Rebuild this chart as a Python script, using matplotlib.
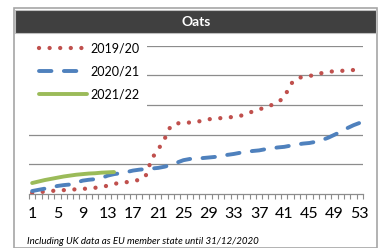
import matplotlib.pyplot as plt
from matplotlib.patches import Rectangle
import numpy as np

plt.rcParams["font.family"] = ["Lato", "DejaVu Sans"]

# ── colours ──────────────────────────────────────────────
RED = "#C0504D"
BLUE = "#4F81BD"
GREEN = "#9BBB59"
GRID = "#8C8C8C"

# ── data (weekly) ───────────────────────────────────────
weeks = np.arange(1, 54)
y2019 = [0.04, 0.06, 0.08, 0.10, 0.12, 0.13, 0.14, 0.16, 0.17, 0.19,
         0.21, 0.24, 0.28, 0.34, 0.38, 0.40, 0.43, 0.48, 0.60, 1.20,
         1.50, 1.85, 2.30, 2.38, 2.40, 2.41, 2.42, 2.48, 2.52, 2.54,
         2.56, 2.58, 2.60, 2.63, 2.71, 2.78, 2.85, 2.92, 3.00, 3.10,
         3.25, 3.70, 3.90, 3.95, 3.98, 4.02, 4.08, 4.12, 4.14, 4.15,
         4.17, 4.18, 4.20]
y2020 = [0.10, 0.14, 0.18, 0.22, 0.27, 0.30, 0.32, 0.38, 0.45, 0.48,
         0.50, 0.54, 0.62, 0.67, 0.70, 0.74, 0.79, 0.82, 0.84, 0.86,
         0.88, 0.92, 0.98, 1.06, 1.14, 1.18, 1.20, 1.21, 1.23, 1.25,
         1.28, 1.32, 1.35, 1.39, 1.42, 1.45, 1.47, 1.51, 1.54, 1.57,
         1.59, 1.63, 1.67, 1.70, 1.72, 1.76, 1.82, 1.90, 2.00, 2.10,
         2.22, 2.32, 2.40]
y2021 = [0.37, 0.42, 0.47, 0.51, 0.55, 0.59, 0.62, 0.65, 0.67, 0.69,
         0.70, 0.72, 0.73, 0.74]
labels = ["2019/20", "2020/21", "2021/22"]
xtick_weeks = list(range(1, 54, 4))

W, H = 381, 248
fig = plt.figure(figsize=(W / 100, H / 100), dpi=100)

# outer frame + title bar
fig.patches.append(Rectangle((14 / W, 0), (377 - 14) / W, 1 - 8 / H,
                             transform=fig.transFigure, fill=False,
                             edgecolor="#A6A6A6", lw=1.2))
fig.patches.append(Rectangle((15 / W, 1 - 33 / H), (376 - 15) / W, 23 / H,
                             transform=fig.transFigure, facecolor="#404040",
                             edgecolor="#BFBFBF", lw=0.8))
fig.text(196 / W, 1 - 21.5 / H, "Oats", color="white", fontsize=10,
         fontweight="bold", ha="center", va="center")

ax = fig.add_axes([29 / W, 1 - 194 / H, (363 - 29) / W, (194 - 45.7) / H])

ax.plot(weeks, y2019, color=RED, lw=3.1, linestyle=(0, (0.01, 2.45)),
        dash_capstyle="round", label=labels[0], zorder=3)
ax.plot(weeks, y2020, color=BLUE, lw=2.8, linestyle=(0, (3.2, 3.2)),
        dash_capstyle="round", label=labels[1], zorder=3)
ax.plot(weeks[:len(y2021)], y2021, color=GREEN, lw=2.8,
        solid_capstyle="round", label=labels[2], zorder=3)

ax.set_xlim(0.5, 53.5)
ax.set_ylim(0, 5)
ax.set_yticks([1, 2, 3, 4, 5])
ax.yaxis.grid(True, color=GRID, lw=0.9)
ax.set_axisbelow(True)
ax.tick_params(axis="y", left=False, labelleft=False)

ax.set_xticks(xtick_weeks)
ax.set_xticks(np.arange(0.5, 54, 1), minor=True)
ax.tick_params(axis="x", which="major", length=0, pad=9.5, labelsize=11.5)
ax.tick_params(axis="x", which="minor", length=3.5, width=0.8, color=GRID,
               direction="out")

for s in ["top", "right", "left"]:
    ax.spines[s].set_visible(False)
ax.spines["bottom"].set_color(GRID)
ax.spines["bottom"].set_linewidth(0.9)

# white area behind the legend hides the top gridlines
ax.add_patch(Rectangle((29 / W, 1 - 112 / H), (147 - 29) / W, (112 - 36) / H,
                       transform=fig.transFigure, facecolor="white",
                       edgecolor="none", zorder=1, clip_on=False))

fig.legend(loc="upper left", bbox_to_anchor=(33 / W, 1 - 36 / H),
           frameon=False, fontsize=9, handlelength=3.8, handletextpad=0.3,
           labelspacing=0.9, borderpad=0)

fig.text(27 / W, 1 - 242 / H,
         "Including UK data as EU member state until 31/12/2020",
         fontsize=7, fontstyle="italic", ha="left", va="center")

plt.savefig("out.png", dpi=100)
plt.close()
